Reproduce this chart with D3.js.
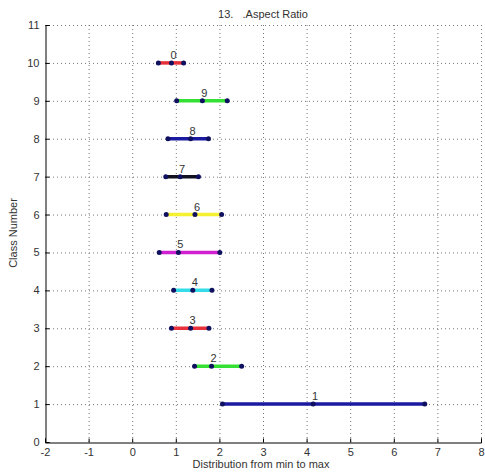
<!DOCTYPE html>
<html><head><meta charset="utf-8">
<script src="https://cdn.jsdelivr.net/npm/d3@7"></script>
<style>body{margin:0;background:#fff}svg{display:block}text{font-family:"Liberation Sans",Arial,sans-serif}</style>
</head><body>
<svg id="c" width="485" height="472"></svg>
<script>
const rows = [1,2,3,4,5,6,7,8,9,10];
const labels = ["1","2","3","4","5","6","7","8","9","0"];
const mins = [2.07,1.43,0.90,0.95,0.62,0.78,0.77,0.82,1.02,0.60];
const mids = [4.15,1.82,1.34,1.39,1.06,1.44,1.10,1.34,1.61,0.90];
const maxs = [6.71,2.51,1.76,1.83,2.01,2.05,1.52,1.75,2.18,1.18];
const colors = ["#1a1aa0","#33e033","#e8303a","#33dde8","#d020d0","#f5f030","#101020","#1a1aa0","#33e033","#e8303a"];
const xTicks = [-2,-1,0,1,2,3,4,5,6,7,8];
const yTicks = [0,1,2,3,4,5,6,7,8,9,10,11];

const svg = d3.select("#c");
const L=45,R=481,T=25,B=442;
const x = d3.scaleLinear().domain([-2,8]).range([L,R]);
const y = d3.scaleLinear().domain([0,11]).range([B,T]);

const g = svg.append("g");
g.selectAll(".gx").data(xTicks.slice(1)).enter().append("line")
 .attr("x1",d=>x(d)+0.5).attr("x2",d=>x(d)+0.5).attr("y1",B).attr("y2",T)
 .attr("stroke","#777").attr("stroke-width",1).attr("stroke-dasharray","1,3");
g.selectAll(".gy").data(yTicks.slice(1)).enter().append("line")
 .attr("y1",d=>y(d)+0.5).attr("y2",d=>y(d)+0.5).attr("x1",L).attr("x2",R)
 .attr("stroke","#777").attr("stroke-width",1).attr("stroke-dasharray","1,3");

const ax = svg.append("g").attr("transform",`translate(0,${B+0.5})`)
 .call(d3.axisBottom(x).tickValues(xTicks).tickSize(-4).tickPadding(6).tickFormat(d=>String(d)));
const ay = svg.append("g").attr("transform",`translate(${L+0.5},0)`)
 .call(d3.axisLeft(y).tickValues(yTicks).tickSize(-4).tickPadding(6).tickFormat(d=>String(d)));
[ax,ay].forEach(a=>{
 a.select(".domain").attr("stroke","#000");
 a.selectAll(".tick line").attr("stroke","#000");
 a.selectAll("text").attr("fill","#333").style("font-size","11px");
});

const data = rows.map((r,i)=>({r,lab:labels[i],min:mins[i],mid:mids[i],max:maxs[i],col:colors[i]}));
svg.selectAll(".rng").data(data).enter().append("line")
 .attr("x1",d=>x(d.min)).attr("x2",d=>x(d.max)).attr("y1",d=>y(d.r)).attr("y2",d=>y(d.r))
 .attr("stroke",d=>d.col).attr("stroke-width",3.5);
data.forEach(d=>{
 svg.selectAll(null).data([d.min,d.mid,d.max]).enter().append("circle")
  .attr("cx",v=>x(v)).attr("cy",y(d.r)).attr("r",2.5).attr("fill","#101060");
});
svg.selectAll(".lbl").data(data).enter().append("text")
 .attr("x",d=>x(d.mid)+2).attr("y",d=>y(d.r)-4).attr("text-anchor","middle")
 .attr("fill","#333").style("font-size","11px").text(d=>d.lab);

svg.append("text").attr("x",263).attr("y",18).attr("text-anchor","middle").attr("fill","#333")
 .style("font-size","11px").attr("xml:space","preserve").text("13.   .Aspect Ratio");
svg.append("text").attr("x",261).attr("y",468).attr("text-anchor","middle").attr("fill","#333")
 .style("font-size","11px").text("Distribution from min to max");
svg.append("text").attr("transform","translate(17,233) rotate(-90)").attr("text-anchor","middle").attr("fill","#333")
 .style("font-size","11px").text("Class Number");
</script>
</body></html>
